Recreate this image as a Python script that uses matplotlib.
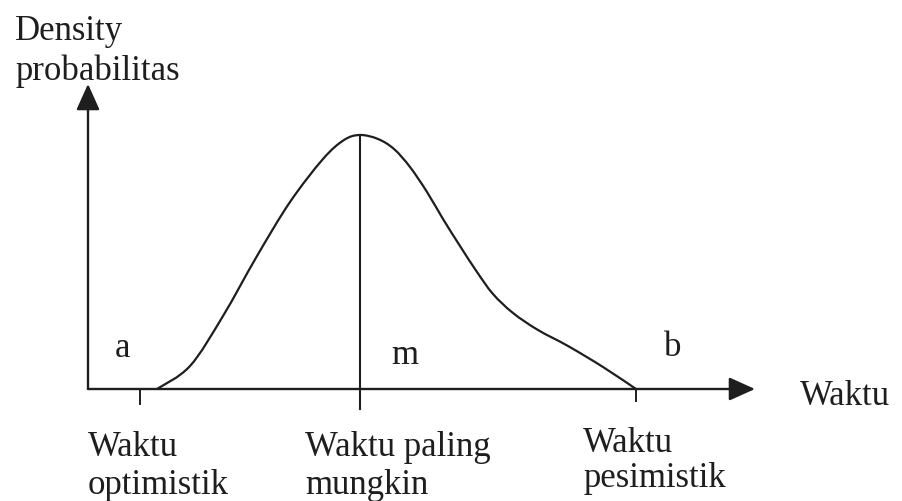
import numpy as np
import matplotlib
matplotlib.use("Agg")
import matplotlib.pyplot as plt
from matplotlib.path import Path
from matplotlib.patches import PathPatch

# beta-shaped time distribution (PERT): a = optimistic, m = most likely, b = pessimistic
t_a, t_m, t_b = 5.2, 27.2, 54.8
curve_t = [6.9, 10.2, 13.5, 16.9, 20.2, 23.5, 25.6, 27.2,
           29.0, 30.6, 32.2, 33.9, 35.5, 37.2, 38.9, 40.5, 42.5, 45.0, 48.0, 51.5, 54.8]
curve_d = [0.0, 2.3, 7.3, 13.3, 18.7, 23.0, 24.9, 25.4,
           25.0, 24.0, 22.2, 19.7, 17.0, 14.3, 11.7, 9.5, 7.6, 5.9, 4.3, 2.2, 0.0]

ink = "#1e1e1e"
font = dict(family="Liberation Serif", size=25, color=ink)


def smooth_path(xs, ys):
    # Catmull-Rom through the points, written as cubic Bezier segments
    p = np.column_stack([xs, ys])
    p = np.vstack([p[0], p, p[-1]])
    verts = [p[1]]
    codes = [Path.MOVETO]
    for i in range(1, len(p) - 2):
        c1 = p[i] + (p[i + 1] - p[i - 1]) / 6
        c2 = p[i + 1] - (p[i + 2] - p[i]) / 6
        verts += [c1, c2, p[i + 1]]
        codes += [Path.CURVE4] * 3
    return Path(verts, codes)


fig = plt.figure(figsize=(9.03, 5.02), dpi=100)
ax = fig.add_axes([0, 0, 1, 1])
ax.set_xlim(-8.8, 81.5)
ax.set_ylim(-11.2, 39.0)
ax.axis("off")

# axes with arrow heads
arrow = dict(arrowstyle="-|>,head_length=0.8,head_width=0.36", mutation_scale=20,
             lw=1.7, color=ink, shrinkA=0, shrinkB=0)
ax.annotate("", xy=(0, 30.5), xytext=(0, 0), arrowprops=arrow)
ax.annotate("", xy=(66.7, 0), xytext=(0, 0), arrowprops=arrow)

# density curve
ax.add_patch(PathPatch(smooth_path(curve_t, curve_d), fill=False, lw=1.6, ec=ink))

# markers for a, m, b
ax.plot([t_a, t_a], [0, -1.5], color=ink, lw=1.4)
ax.plot([t_m, t_m], [max(curve_d), -2.0], color=ink, lw=1.5)
ax.plot([t_b, t_b], [0, -1.2], color=ink, lw=1.4)

ax.text(2.7, 3.3, "a", ha="left", va="baseline", **font)
ax.text(30.3, 2.6, "m", ha="left", va="baseline", **font)
ax.text(57.6, 3.4, "b", ha="left", va="baseline", **font)

ax.text(71.2, -1.5, "Waktu", ha="left", va="baseline", **font)

ax.text(-7.3, 35.0, "Density", ha="left", va="baseline", **font)
ax.text(-7.3, 31.0, "probabilitas", ha="left", va="baseline", **font)

ax.text(0.0, -6.6, "Waktu", ha="left", va="baseline", **font)
ax.text(0.0, -10.4, "optimistik", ha="left", va="baseline", **font)
ax.text(21.7, -6.6, "Waktu paling", ha="left", va="baseline", **font)
ax.text(21.7, -10.4, "mungkin", ha="left", va="baseline", **font)
ax.text(49.5, -6.2, "Waktu", ha="left", va="baseline", **font)
ax.text(49.5, -9.7, "pesimistik", ha="left", va="baseline", **font)

fig.savefig("out.png", dpi=100, facecolor="white")
